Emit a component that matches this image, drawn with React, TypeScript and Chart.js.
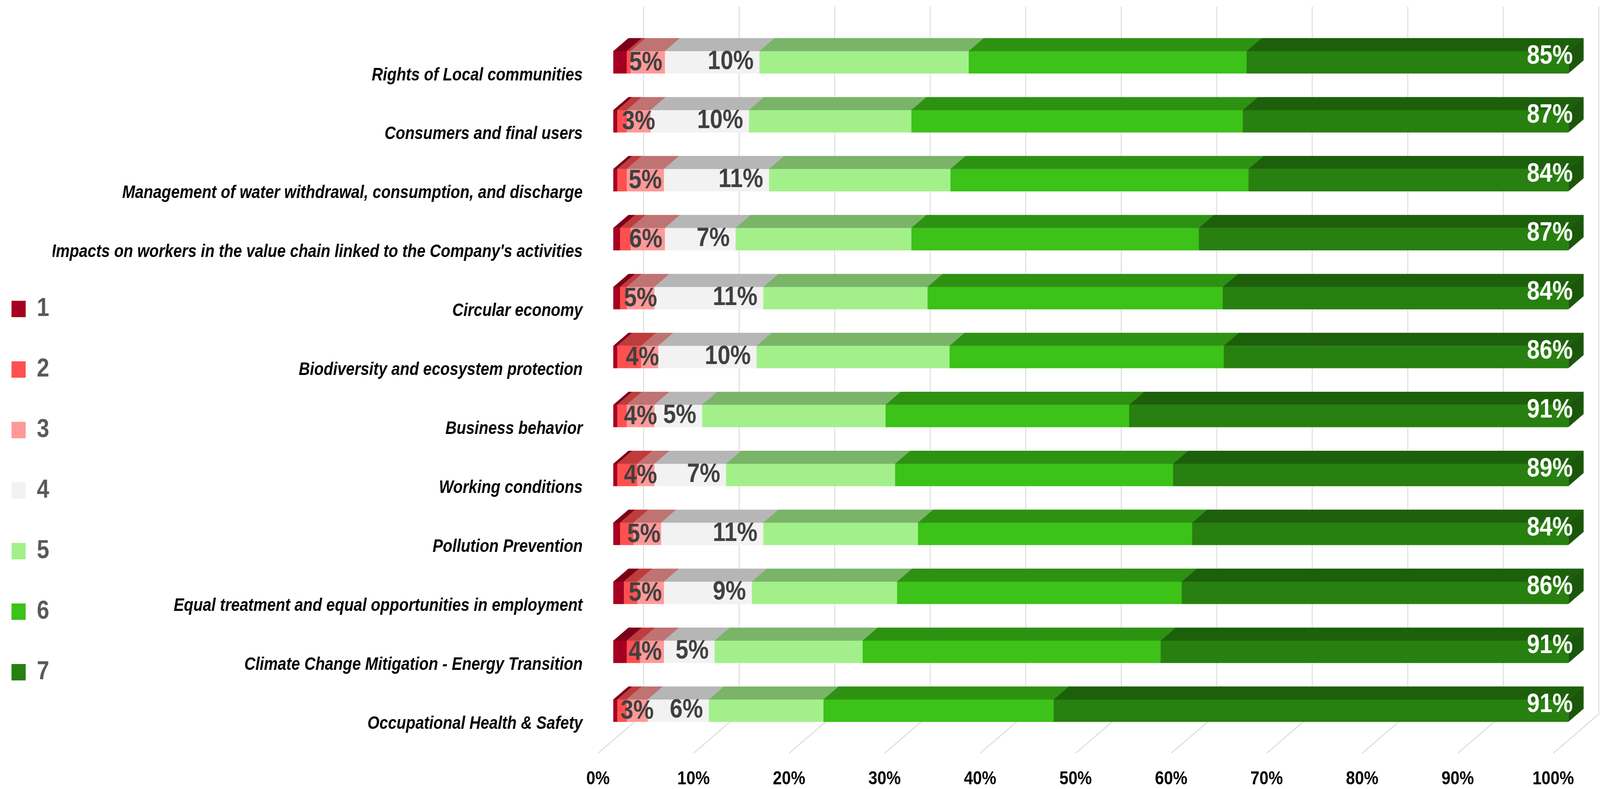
import { useEffect, useRef } from 'react';
import { Chart, registerables } from 'chart.js';

Chart.register(...registerables);

const categories = [
  'Rights of Local communities',
  'Consumers and final users',
  'Management of water withdrawal, consumption, and discharge',
  "Impacts on workers in the value chain linked to the Company's activities",
  'Circular economy',
  'Biodiversity and ecosystem protection',
  'Business behavior',
  'Working conditions',
  'Pollution Prevention',
  'Equal treatment and equal opportunities in employment',
  'Climate Change Mitigation - Energy Transition',
  'Occupational Health & Safety',
];

const seriesNames = ['1', '2', '3', '4', '5', '6', '7'];

const score1 = [1.4, 0.4, 0.4, 0.7, 0.7, 0.4, 0.4, 0.4, 0.7, 1.1, 1.4, 0.4];
const score2 = [0.4, 1.0, 1.0, 1.1, 0.7, 2.5, 1.0, 2.1, 1.4, 1.4, 1.4, 1.0];
const score3 = [3.6, 2.5, 3.9, 3.6, 2.9, 1.8, 2.9, 1.8, 2.9, 2.8, 2.5, 2.2];
const score4 = [9.9, 10.3, 11.0, 7.4, 11.4, 10.3, 5.0, 7.5, 10.7, 9.2, 5.3, 6.4];
const score5 = [21.9, 17.0, 19.0, 18.4, 17.2, 20.2, 19.2, 17.7, 16.2, 15.2, 15.5, 12.0];
const score6 = [29.1, 34.7, 31.2, 30.1, 30.9, 28.7, 25.5, 29.1, 28.7, 29.8, 31.2, 24.1];
const score7 = [33.7, 34.1, 33.5, 38.7, 36.2, 36.1, 46.0, 41.4, 39.4, 40.5, 42.7, 53.9];

const negativeLabels = ['5%', '3%', '5%', '6%', '5%', '4%', '4%', '4%', '5%', '5%', '4%', '3%'];
const neutralLabels = ['10%', '10%', '11%', '7%', '11%', '10%', '5%', '7%', '11%', '9%', '5%', '6%'];
const positiveLabels = ['85%', '87%', '84%', '87%', '84%', '86%', '91%', '89%', '84%', '86%', '91%', '91%'];

const xTickValues = [0, 10, 20, 30, 40, 50, 60, 70, 80, 90, 100];

const seriesValues = [score1, score2, score3, score4, score5, score6, score7];
const frontColors = ['#A50021', '#FF5050', '#FF9999', '#F2F2F2', '#A3F08B', '#3CC218', '#27800F'];

const FONT = "'Liberation Sans', Arial, sans-serif";
const GRID_COLOR = '#D9D9D9';
const W = 4737;
const H = 2020;
const DX = 45;
const DY = 33.5;

function shade(hex: string, f: number) {
  const n = parseInt(hex.slice(1), 16);
  const r = Math.round(((n >> 16) & 255) * f);
  const g = Math.round(((n >> 8) & 255) * f);
  const b = Math.round((n & 255) * f);
  return `rgb(${r},${g},${b})`;
}
const topColors = frontColors.map((c) => shade(c, 0.75));
const sideColors = frontColors.map((c) => shade(c, 0.68));

function poly(ctx: CanvasRenderingContext2D, pts: number[][], color: string) {
  ctx.beginPath();
  ctx.moveTo(pts[0][0], pts[0][1]);
  for (let k = 1; k < pts.length; k++) ctx.lineTo(pts[k][0], pts[k][1]);
  ctx.closePath();
  ctx.fillStyle = color;
  ctx.fill();
}

const depthPlugin = {
  id: 'depth3d',
  beforeDatasetsDraw(chart: any) {
    const { ctx, chartArea, scales } = chart;
    const x = scales.x;
    const backTop = chartArea.top - 2 * DY;
    const backBottom = chartArea.bottom - 2 * DY;
    const front = chartArea.bottom + DY;
    ctx.save();
    ctx.strokeStyle = GRID_COLOR;
    ctx.lineWidth = 2.5;
    x.ticks.forEach((t: any) => {
      const px = x.getPixelForValue(t.value);
      ctx.beginPath();
      ctx.moveTo(px + 2 * DX, backTop);
      ctx.lineTo(px + 2 * DX, backBottom);
      ctx.lineTo(px - DX, front);
      ctx.stroke();
    });
    ctx.restore();
  },
  afterDatasetsDraw(chart: any) {
    const { ctx } = chart;
    const n = chart.data.datasets.length;
    ctx.save();
    for (let d = 0; d < n; d++) {
      if (!chart.isDatasetVisible(d)) continue;
      chart.getDatasetMeta(d).data.forEach((bar: any) => {
        const p = bar.getProps(['x', 'y', 'base', 'height'], true);
        const l = Math.min(p.base, p.x);
        const r = Math.max(p.base, p.x);
        if (r - l <= 0) return;
        const top = p.y - p.height / 2;
        poly(ctx, [[l, top], [r + 0.5, top], [r + 0.5 + DX, top - DY], [l + DX, top - DY]], topColors[d]);
      });
    }
    const rows = chart.data.labels.length;
    for (let i = 0; i < rows; i++) {
      for (let d = n - 1; d >= 0; d--) {
        if (!chart.isDatasetVisible(d)) continue;
        const p = chart.getDatasetMeta(d).data[i].getProps(['x', 'y', 'base', 'height'], true);
        if (Math.abs(p.x - p.base) < 0.5) continue;
        const top = p.y - p.height / 2;
        const bottom = p.y + p.height / 2;
        const r = Math.max(p.x, p.base);
        poly(ctx, [[r, top], [r + DX, top - DY], [r + DX, bottom - DY], [r, bottom]], sideColors[d]);
        break;
      }
    }
    ctx.textBaseline = 'middle';
    ctx.font = `bold 68px ${FONT}`;
    for (let i = 0; i < rows; i++) {
      const b0 = chart.getDatasetMeta(0).data[i].getProps(['x', 'y', 'base'], true);
      const b2 = chart.getDatasetMeta(2).data[i].getProps(['x'], true);
      const b3 = chart.getDatasetMeta(3).data[i].getProps(['x'], true);
      const b6 = chart.getDatasetMeta(6).data[i].getProps(['x'], true);
      ctx.fillStyle = '#404040';
      ctx.textAlign = 'center';
      ctx.fillText(negativeLabels[i], (b0.base + b2.x) / 2 + 20, b0.y + 2);
      ctx.textAlign = 'right';
      ctx.fillText(neutralLabels[i], b3.x - 17, b0.y - 1);
      ctx.fillStyle = '#FFFFFF';
      ctx.fillText(positiveLabels[i], b6.x + 13, b0.y - 15);
    }
    ctx.restore();
  },
};

const CHART_LEFT = 1815.5;
const CHART_RIGHT = 4643.5;
const CHART_TOP = 84;
const CHART_BOTTOM = 1895;
const PAD_LEFT = 24;

export default function App() {
  const ref = useRef<HTMLCanvasElement>(null);
  useEffect(() => {
    document.body.style.overflow = 'hidden';
    document.documentElement.style.overflow = 'hidden';
    const chart = new Chart(ref.current as HTMLCanvasElement, {
      type: 'bar',
      data: {
        labels: categories,
        datasets: seriesNames.map((name, d) => ({
          label: name,
          data: seriesValues[d],
          backgroundColor: frontColors[d],
          borderWidth: 0,
          barThickness: 57,
        })),
      },
      options: {
        indexAxis: 'y',
        animation: false,
        responsive: false,
        devicePixelRatio: 1,
        events: [],
        layout: { padding: { left: PAD_LEFT, top: CHART_TOP, right: W - CHART_RIGHT, bottom: 0 } },
        scales: {
          x: {
            type: 'linear',
            stacked: true,
            min: 0,
            max: 100,
            afterBuildTicks: (scale: any) => {
              scale.ticks = xTickValues.map((v) => ({ value: v }));
            },
            afterFit: (scale: any) => {
              scale.height = H - CHART_BOTTOM;
            },
            grid: { display: false, drawTicks: true, tickLength: 71 },
            border: { display: false },
            ticks: {
              maxRotation: 0,
              autoSkip: false,
              padding: 0,
              labelOffset: -DX,
              color: '#000000',
              font: { size: 48, weight: 'bold', family: FONT },
              callback: (v: any) => `${v}%`,
            },
          },
          y: {
            type: 'category',
            stacked: true,
            afterFit: (scale: any) => {
              const lg = scale.chart.legend;
              scale.width = CHART_LEFT - PAD_LEFT - (lg ? lg.width : 0);
            },
            grid: { display: false, drawTicks: true, tickLength: 90.5 },
            border: { display: false },
            ticks: {
              autoSkip: false,
              padding: 0,
              labelOffset: DY,
              color: '#000000',
              font: { size: 45.7, weight: 'bold', style: 'italic', family: FONT },
            },
          },
        },
        plugins: {
          tooltip: { enabled: false },
          legend: {
            display: true,
            position: 'left',
            align: 'start',
            title: { display: true, text: '', padding: { top: 652, bottom: 0 }, font: { size: 10, lineHeight: 1.2 } },
            labels: {
              boxWidth: 42,
              boxHeight: 42,
              padding: 10,
              color: '#595959',
              font: { size: 66, weight: 'bold', family: FONT, lineHeight: 145 / 66 },
              generateLabels: (c: any) =>
                c.data.datasets.map((ds: any, i: number) => ({
                  text: [ds.label],
                  fillStyle: ds.backgroundColor,
                  strokeStyle: 'rgba(0,0,0,0)',
                  lineWidth: 0,
                  hidden: !c.isDatasetVisible(i),
                  datasetIndex: i,
                  fontColor: '#595959',
                })),
            },
          },
        },
      } as any,
      plugins: [depthPlugin],
    });
    return () => chart.destroy();
  }, []);
  return (
    <div style={{ position: 'fixed', left: 0, top: 0, width: '100vw', height: '100vh' }}>
      <canvas ref={ref} width={W} height={H} style={{ display: 'block', width: '100vw', height: '100vh' }} />
    </div>
  );
}
